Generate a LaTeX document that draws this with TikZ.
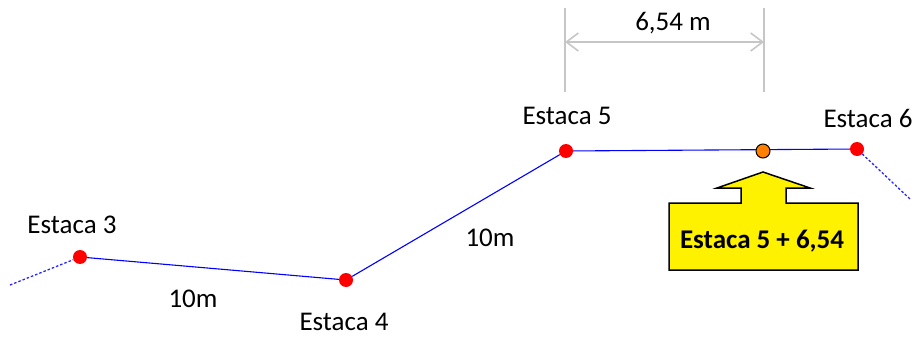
\documentclass[tikz,border=0pt]{standalone}
\usepackage{fontspec}
\setmainfont{Carlito}
\usetikzlibrary{arrows.meta}
\begin{document}
\begin{tikzpicture}[x=1pt,y=-1pt,
  stake/.style={circle,fill=red,inner sep=0pt,minimum size=14pt},
  lbl/.style={font=\fontsize{27}{31}\selectfont,inner sep=0pt},
  road/.style={blue,line width=1.1pt},
  roaddash/.style={blue!85,line width=1.3pt,dash pattern=on 2.5pt off 2pt},
  dim/.style={gray!45,line width=1.6pt}]
\useasboundingbox (0,0) rectangle (916,337);
% stakes
\node[stake] (e3) at (80,257) {};
\node[stake] (e4) at (346,280) {};
\node[stake] (e5) at (566,151) {};
\node[stake] (e6) at (857,149) {};
\coordinate (l0) at (10,285);
\coordinate (r0) at (910,199);
\draw[roaddash] (l0) -- (e3);
\draw[road] (e3) -- (e4) -- (e5) -- (e6);
\draw[roaddash] (e6) -- (r0);
\node[circle,fill=orange,draw=black,line width=1pt,inner sep=0pt,minimum size=14pt] (p) at (763,151) {};
% labels
\node[lbl] (t3) at (72,225) {Estaca 3};
\node[lbl] (t4) at (344,322) {Estaca 4};
\node[lbl] (t5) at (567,116) {Estaca 5};
\node[lbl] (t6) at (868,118) {Estaca 6};
\node[lbl] (d1) at (193,299) {10m};
\node[lbl] (d2) at (490,238) {10m};
% dimension
\coordinate (a1) at (565,8);
\coordinate (a2) at (565,92);
\coordinate (b1) at (764,8);
\coordinate (b2) at (764,92);
\draw[dim] (a1) -- (a2);
\draw[dim] (b1) -- (b2);
\coordinate (c1) at (565,42);
\coordinate (c2) at (764,42);
\draw[dim,{Straight Barb[length=12pt,width=18pt]}-{Straight Barb[length=12pt,width=18pt]}] (c1) -- (c2);
\node[lbl] (dm) at (673,23) {6,54 m};
% callout
\draw[fill=yellow,line width=1.5pt,line join=miter]
  (669,203) -- (741,203) -- (741,188) -- (717,188) -- (763,172) -- (810,188) -- (786,188) -- (786,203) -- (858,203) -- (858,270) -- (669,270) -- cycle;
\node[lbl,font=\fontsize{27}{31}\selectfont\bfseries] (cl) at (762,241) {Estaca 5 + 6,54};
\end{tikzpicture}
\end{document}
